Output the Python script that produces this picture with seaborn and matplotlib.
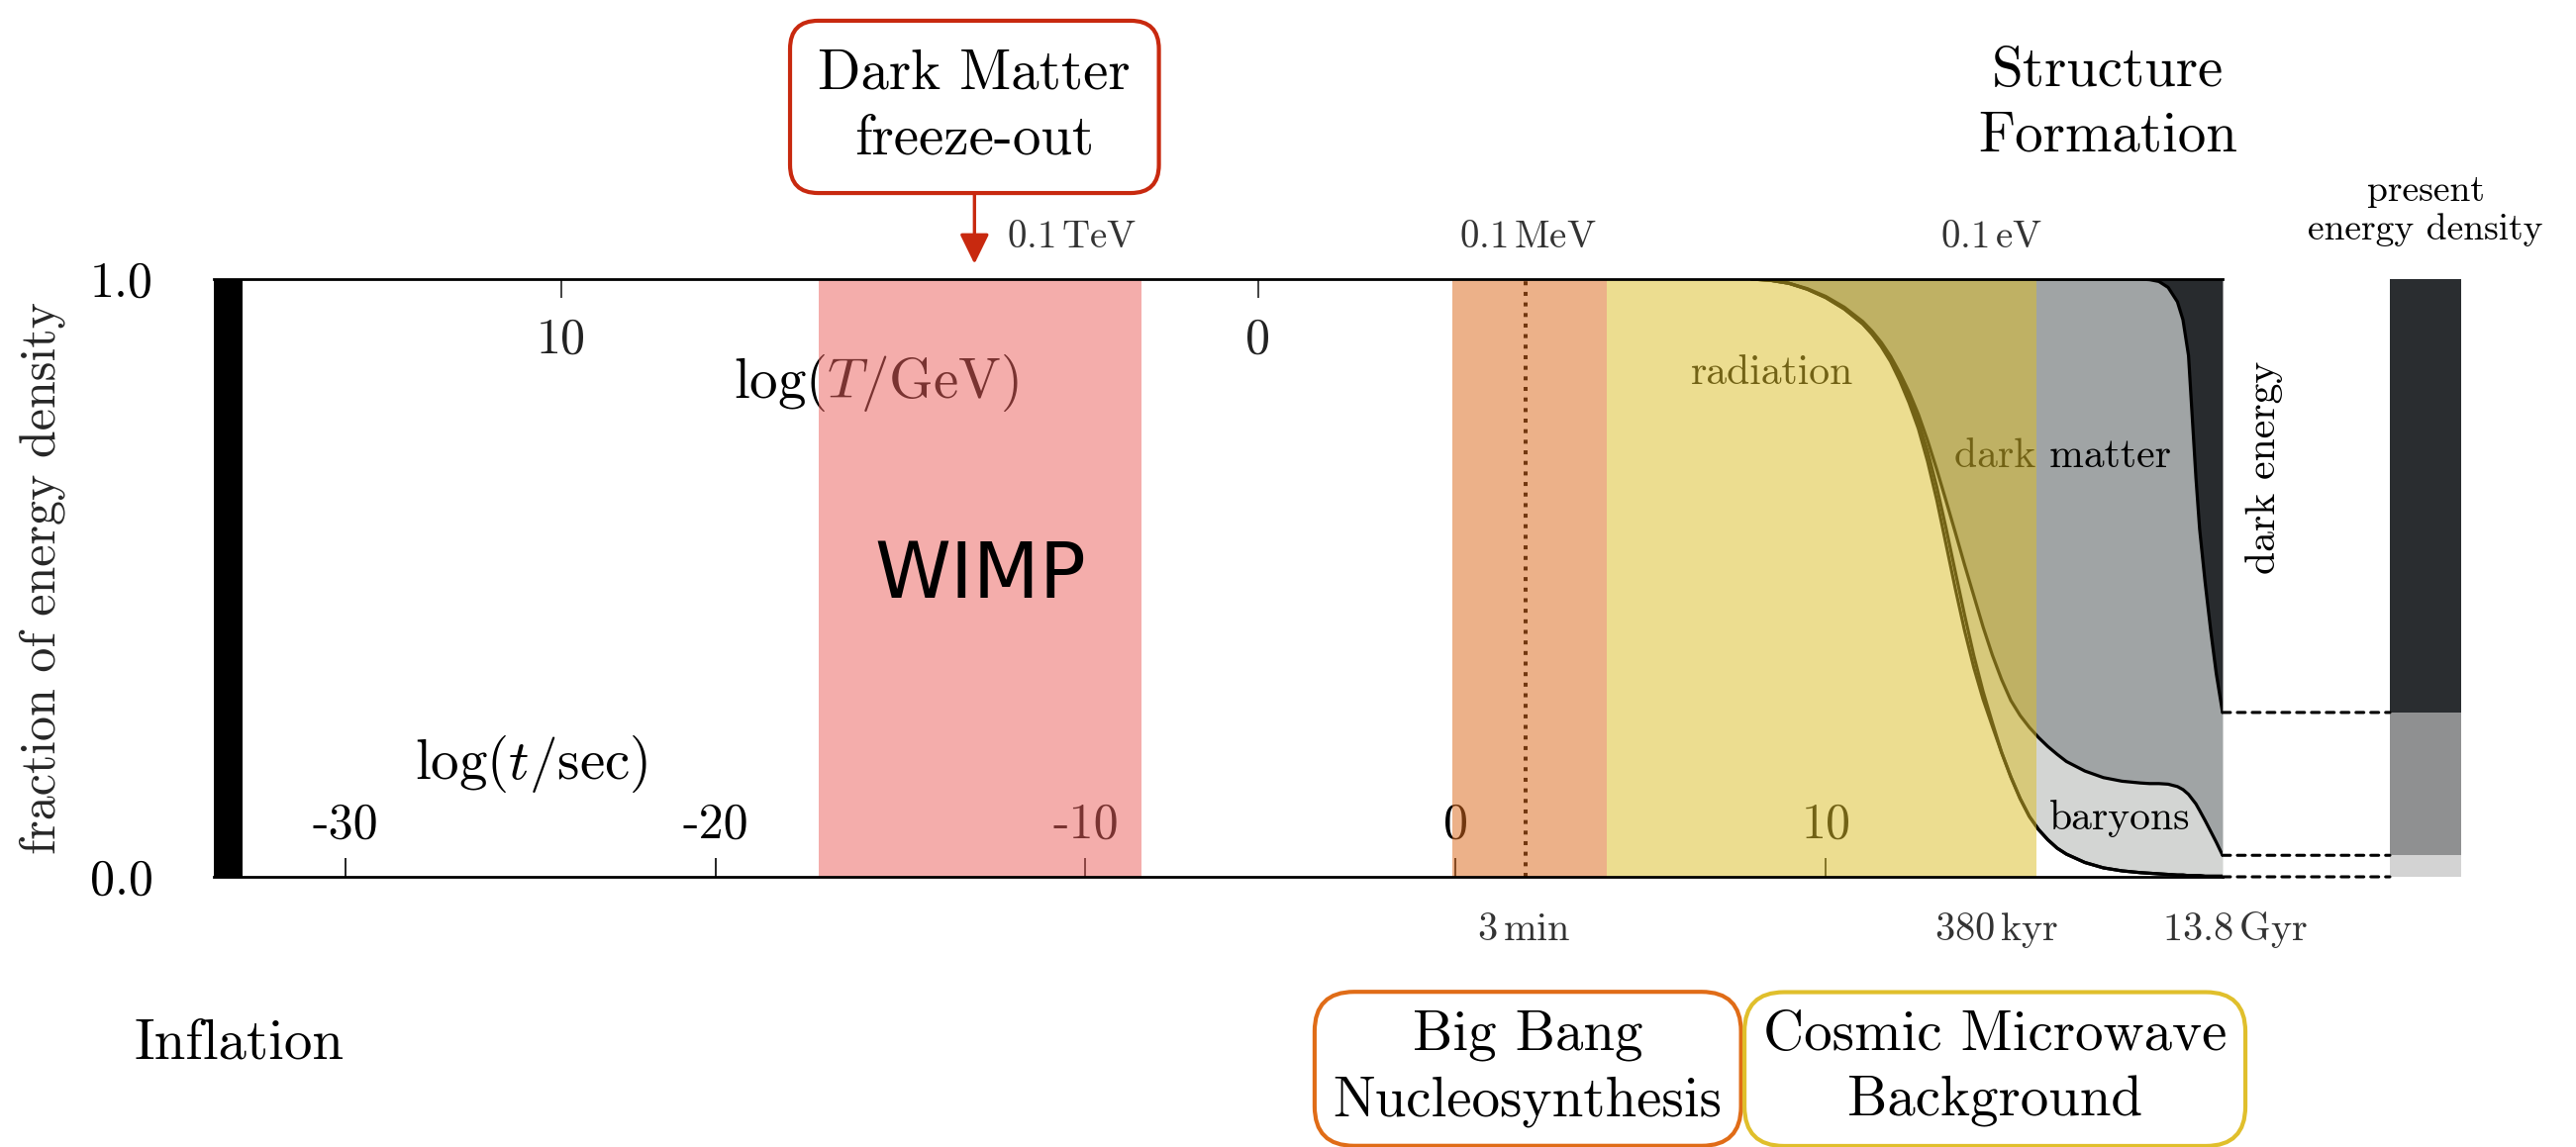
import numpy as np
import pandas as pd
import matplotlib
matplotlib.use("Agg")
import matplotlib.pyplot as plt
from matplotlib.patches import ConnectionPatch
import seaborn as sns

# ------------------------------------------------------------------ data
# log10 of cosmic time in seconds
log_t = [8.0, 8.5, 9.0, 9.5, 10.0, 10.5,
         11.0, 11.25, 11.5, 11.75, 12.0, 12.25, 12.5, 12.75,
         13.0, 13.25, 13.5, 13.75, 14.0, 14.25, 14.5, 14.75,
         15.0, 15.25, 15.5, 15.75, 16.0, 16.25, 16.5,
         17.0, 17.5, 18.0, 18.5, 18.75, 19.0, 19.25, 19.5,
         19.65, 19.8, 19.9, 20.0, 20.1, 20.25, 20.4, 20.55, 20.72]

# cumulative energy fractions, stacked from the bottom
radiation = [1.000, 0.998, 0.993, 0.983, 0.969, 0.950,
             0.925, 0.908, 0.887, 0.862, 0.830, 0.793, 0.750, 0.695,
             0.630, 0.556, 0.482, 0.412, 0.350, 0.297, 0.252, 0.208,
             0.167, 0.131, 0.101, 0.079, 0.062, 0.048, 0.038,
             0.024, 0.015, 0.010, 0.007, 0.006, 0.005, 0.004, 0.003,
             0.003, 0.002, 0.002, 0.002, 0.002, 0.001, 0.001, 0.001, 0.001]
radiation_total = [1.000, 0.998, 0.993, 0.983, 0.969, 0.950,
                   0.925, 0.908, 0.889, 0.866, 0.836, 0.802, 0.762, 0.712,
                   0.652, 0.583, 0.510, 0.438, 0.370, 0.310, 0.258, 0.208,
                   0.167, 0.131, 0.101, 0.079, 0.062, 0.048, 0.038,
                   0.024, 0.015, 0.010, 0.007, 0.006, 0.005, 0.004, 0.003,
                   0.003, 0.002, 0.002, 0.002, 0.002, 0.001, 0.001, 0.001, 0.001]
with_baryons = [1.000, 0.998, 0.993, 0.984, 0.971, 0.953,
                0.929, 0.913, 0.894, 0.871, 0.843, 0.811, 0.774, 0.730,
                0.681, 0.629, 0.576, 0.522, 0.470, 0.418, 0.371, 0.330,
                0.295, 0.270, 0.250, 0.233, 0.218, 0.205, 0.193,
                0.177, 0.166, 0.160, 0.157, 0.156, 0.156, 0.155, 0.151,
                0.146, 0.138, 0.130, 0.122, 0.111, 0.094, 0.076, 0.058, 0.036]
with_dark_matter = [1.000, 1.000, 1.000, 1.000, 1.000, 1.000,
                    1.000, 1.000, 1.000, 1.000, 1.000, 1.000, 1.000, 1.000,
                    1.000, 1.000, 1.000, 1.000, 1.000, 1.000, 1.000, 1.000,
                    1.000, 1.000, 1.000, 1.000, 1.000, 1.000, 1.000,
                    1.000, 1.000, 1.000, 1.000, 0.999, 0.996, 0.986, 0.962,
                    0.932, 0.872, 0.770, 0.668, 0.582, 0.492, 0.412, 0.340, 0.275]

# today's budget
present_components = ["baryons", "dark matter", "dark energy"]
present_fraction = [0.036, 0.239, 0.725]

# axis ticks
time_ticks = [-30, -20, -10, 0, 10]
time_tick_labels = ["-30", "-20", "-10", "0", "10"]
temp_ticks = [10, 0]
temp_tick_labels = ["10", "0"]
frac_ticks = [0.0, 1.0]
frac_tick_labels = ["0.0", "1.0"]

# epochs shaded on the time axis
band_names = ["WIMP", "BBN", "CMB"]
band_start = [-17.2, -0.09, 4.07]
band_end = [-8.48, 4.07, 15.69]

# key moments on the time axis
t_min, t_today = -33.55, 20.72
inflation_end = -32.78
freeze_out = -13.0
nucleosynthesis = 1.9
recombination = 14.55
structure = 17.62

# log(T/GeV) as a function of log(t/sec)
T_zero_at, t_per_T = -5.34, 1.882

# ------------------------------------------------------------------ style
sns.set_style("white")
plt.rcParams["font.family"] = ["cmr10", "DejaVu Serif"]
plt.rcParams["mathtext.fontset"] = "cm"
plt.rcParams["axes.unicode_minus"] = False
plt.rcParams["axes.formatter.use_mathtext"] = True
plt.rcParams["text.color"] = "black"

C_BARYON = "#d3d5d3"
C_DM = "#a0a4a5"
C_DE = "#282b2e"
C_BAR = {"dark energy": "#2a2d30", "dark matter": "#8f9091", "baryons": "#d3d3d3"}
C_BANDS = ["#ea635f", "#dc6b1e", "#dcbe2a"]
C_RED, C_ORANGE, C_YELLOW = "#c8290f", "#e06c17", "#e0bf2c"
GREY_TXT = "#333333"

W, H = 2602, 1159
fig = plt.figure(figsize=(W / 100, H / 100), dpi=100)
ax = fig.add_axes([216 / W, 1 - 886 / H, 2029 / W, 604 / H])

x = np.array(log_t)
ax.fill_between(x, radiation_total, with_baryons, color=C_BARYON, lw=0, zorder=1)
ax.fill_between(x, with_baryons, with_dark_matter, color=C_DM, lw=0, zorder=1)
ax.fill_between(x, with_dark_matter, 1.0, color=C_DE, lw=0, zorder=1)

curves = pd.DataFrame({
    "log_t": log_t * 4,
    "fraction": radiation + radiation_total + with_baryons + with_dark_matter,
    "boundary": (["radiation"] * len(log_t) + ["radiation_total"] * len(log_t)
                 + ["baryons"] * len(log_t) + ["dark_matter"] * len(log_t)),
})
sns.lineplot(data=curves, x="log_t", y="fraction", units="boundary",
             estimator=None, sort=False, color="black", linewidth=2.3,
             ax=ax, zorder=2, legend=False)

# nucleosynthesis marker
ax.axvline(nucleosynthesis, color="black", ls=":", lw=2.9, zorder=2)

# labels living under the tinted epochs
ax.text(8.56, 0.843, "radiation", fontsize=30, ha="center", va="center", zorder=3)
ax.text(16.39, 0.703, "dark matter", fontsize=30, ha="center", va="center", zorder=3)
ax.text(17.94, 0.097, "baryons", fontsize=30, ha="center", va="center", zorder=3)
ax.text(-15.67, 0.826, r"$\log(T/\mathrm{GeV})$", fontsize=41,
        ha="center", va="center", zorder=3)
ax.text(-24.97, 0.189, r"$\log(t/\mathrm{sec})$", fontsize=41,
        ha="center", va="center", zorder=3)

for s, e, c in zip(band_start, band_end, C_BANDS):
    ax.axvspan(s, e, color=c, alpha=0.52, lw=0, zorder=4)

ax.text((band_start[0] + band_end[0]) / 2, 0.503, "WIMP", family="DejaVu Sans",
        fontsize=56, ha="center", va="center", zorder=5)

# inflation
ax.axvspan(t_min, inflation_end, color="black", lw=0, zorder=6)

ax.set_xlim(t_min, t_today)
ax.set_ylim(0, 1)
ax.set_xlabel("")

ax.set_xticks(time_ticks, time_tick_labels)
ax.tick_params(axis="x", direction="in", length=13.7, width=1.2, pad=-54,
               labelsize=36, bottom=True, top=False, colors="black")
ax.set_yticks(frac_ticks, frac_tick_labels)
ax.tick_params(axis="y", length=0, pad=44, labelsize=36, left=True, colors="black")
ax.set_ylabel("fraction of energy density", fontsize=36)
ax.yaxis.set_label_coords(-(216 - 43) / 2029, 0.5)
ax.yaxis.label.set_verticalalignment("center")

for side in ["left", "right"]:
    ax.spines[side].set_visible(False)
for side in ["top", "bottom"]:
    ax.spines[side].set_visible(True)
    ax.spines[side].set_color("black")
    ax.spines[side].set_linewidth(2.0)
    ax.spines[side].set_zorder(7)

# temperature axis along the top
secax = ax.secondary_xaxis(
    "top",
    functions=(lambda t: (T_zero_at - t) / t_per_T,
               lambda T: T_zero_at - t_per_T * T))
secax.set_xticks(temp_ticks, temp_tick_labels)
secax.tick_params(direction="in", length=13.7, width=1.2, pad=-61,
                  labelsize=36, colors="#222222")
secax.spines["top"].set_visible(False)

# temperature / time of the events
xt = ax.get_xaxis_transform()
for xpos, txt in [(-10.37, r"$0.1\,\mathrm{TeV}$"),
                  (nucleosynthesis + 0.05, r"$0.1\,\mathrm{MeV}$"),
                  (recombination - 0.08, r"$0.1\,\mathrm{eV}$")]:
    ax.text(xpos, 1.0695, txt, transform=xt, fontsize=28, color=GREY_TXT,
            ha="center", va="center", clip_on=False)
for xpos, txt in [(nucleosynthesis - 0.07, r"$3\,\mathrm{min}$"),
                  (recombination + 0.05, r"$380\,\mathrm{kyr}$"),
                  (t_today + 0.33, r"$13.8\,\mathrm{Gyr}$")]:
    ax.text(xpos, -0.0894, txt, transform=xt, fontsize=29, color=GREY_TXT,
            ha="center", va="center", clip_on=False)

ax.text(t_today + 1.12, 0.684, "dark energy", rotation=90, fontsize=30,
        ha="center", va="center", clip_on=False)

# boxed epochs
ax.annotate("Dark Matter\nfreeze-out", xy=(freeze_out, 1.0), xycoords="data",
            xytext=(freeze_out, 1 - 108 / H), textcoords=("data", "figure fraction"),
            fontsize=41, ha="center", va="center", linespacing=1.37,
            bbox=dict(boxstyle="round,pad=0.5,rounding_size=0.5", fc="white",
                      ec=C_RED, lw=3),
            arrowprops=dict(arrowstyle="-|>,head_length=0.45,head_width=0.22",
                            color=C_RED, lw=2.4, shrinkA=0, shrinkB=11))
ax.annotate("Structure\nFormation", xy=(structure, 1 - 105 / H),
            xycoords=("data", "figure fraction"), fontsize=41,
            ha="center", va="center", linespacing=1.37)
ax.annotate("Inflation", xy=(-32.86, 1 - 1055 / H),
            xycoords=("data", "figure fraction"), fontsize=41,
            ha="center", va="center")
ax.annotate("Big Bang\nNucleosynthesis", xy=(nucleosynthesis + 0.05, 1 - 1080 / H),
            xycoords=("data", "figure fraction"), fontsize=41,
            ha="center", va="center", linespacing=1.37,
            bbox=dict(boxstyle="round,pad=0.33,rounding_size=0.7", fc="white",
                      ec=C_ORANGE, lw=3))
ax.annotate("Cosmic Microwave\nBackground", xy=(recombination + 0.02, 1 - 1080 / H),
            xycoords=("data", "figure fraction"), fontsize=41,
            ha="center", va="center", linespacing=1.37,
            bbox=dict(boxstyle="round,pad=0.33,rounding_size=0.7", fc="white",
                      ec=C_YELLOW, lw=3))

# present-day energy budget
bax = fig.add_axes([2414 / W, 1 - 886 / H, 72 / W, 604 / H])
present = pd.DataFrame({"component": present_components,
                        "cumulative": np.cumsum(present_fraction),
                        "slot": ["today"] * 3})
order = present_components[::-1]
sns.barplot(data=present, x="slot", y="cumulative", hue="component",
            hue_order=order, palette=C_BAR, dodge=False, width=1.0,
            saturation=1, linewidth=0, legend=False, ax=bax)
bax.set_xlim(-0.5, 0.5)
bax.set_ylim(0, 1)
bax.axis("off")
bax.text(0.5, (886 - 213) / 604, "present\nenergy density", transform=bax.transAxes,
         fontsize=27, ha="center", va="center", linespacing=1.2, clip_on=False)

for level in np.concatenate([[0.0], np.cumsum(present_fraction)[:-1]]):
    con = ConnectionPatch(xyA=(t_today, level), coordsA=ax.transData,
                          xyB=(-0.5, level), coordsB=bax.transData,
                          color="black", lw=2.2, linestyle=(0, (2.6, 2.3)))
    fig.add_artist(con)

fig.savefig("out.png", dpi=100)
